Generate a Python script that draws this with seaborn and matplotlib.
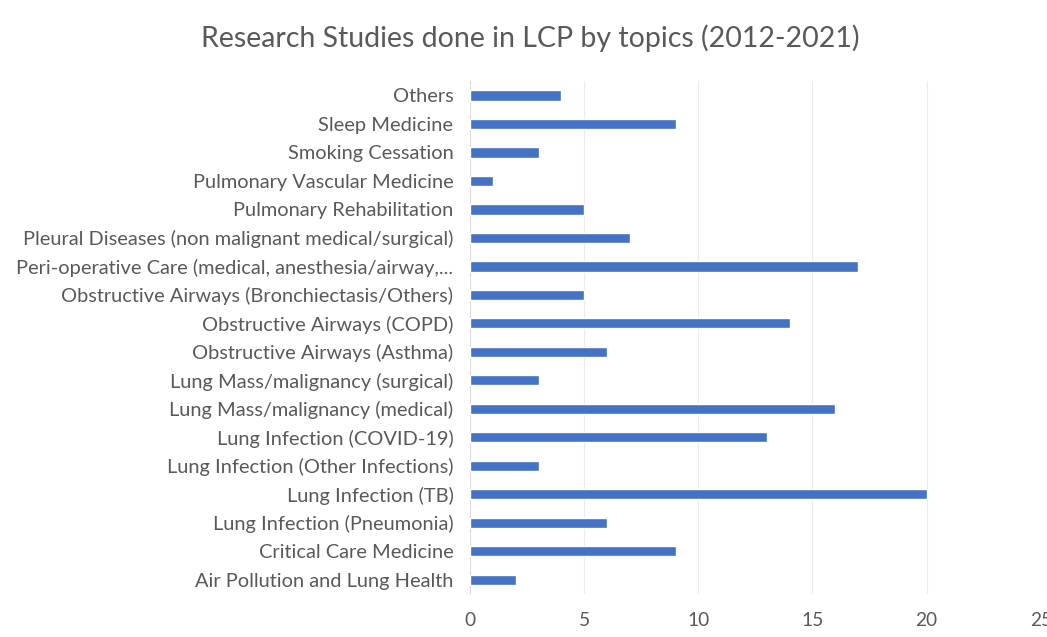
import matplotlib
matplotlib.use("Agg")
import matplotlib.pyplot as plt
import seaborn as sns
import pandas as pd

# Topics listed top to bottom, with number of studies
topics = [
    "Others",
    "Sleep Medicine",
    "Smoking Cessation",
    "Pulmonary Vascular Medicine",
    "Pulmonary Rehabilitation",
    "Pleural Diseases (non malignant medical/surgical)",
    "Peri-operative Care (medical, anesthesia/airway,...",
    "Obstructive Airways (Bronchiectasis/Others)",
    "Obstructive Airways (COPD)",
    "Obstructive Airways (Asthma)",
    "Lung Mass/malignancy (surgical)",
    "Lung Mass/malignancy (medical)",
    "Lung Infection (COVID-19)",
    "Lung Infection (Other Infections)",
    "Lung Infection (TB)",
    "Lung Infection (Pneumonia)",
    "Critical Care Medicine",
    "Air Pollution and Lung Health",
]
studies = [4, 9, 3, 1, 5, 7, 17, 5, 14, 6, 3, 16, 13, 3, 20, 6, 9, 2]
x_ticks = [0, 5, 10, 15, 20, 25]

df = pd.DataFrame({"topic": topics, "studies": studies})

sns.set_theme(style="white")
plt.rcParams["font.family"] = ["Lato", "DejaVu Sans"]

text_color = "#595959"
bar_color = "#4472C4"

fig = plt.figure(figsize=(10.47, 6.37), dpi=100)
ax = fig.add_axes([0.449, 0.0675, 0.545, 0.805])

sns.barplot(data=df, x="studies", y="topic", order=topics, color=bar_color,
            width=0.36, saturation=1, ax=ax, zorder=3)

ax.set_xlim(0, 25)
ax.set_xticks(x_ticks)
ax.set_xticklabels([str(t) for t in x_ticks])
ax.xaxis.grid(True, color="#EBEBEB", linewidth=0.8, zorder=0)
ax.yaxis.grid(False)
for side in ["top", "right", "bottom"]:
    ax.spines[side].set_visible(False)
ax.spines["left"].set_color("#DDDDDD")
ax.spines["left"].set_linewidth(0.8)
ax.set_xlabel("")
ax.set_ylabel("")
ax.tick_params(axis="both", length=0, colors=text_color)
ax.tick_params(axis="y", labelsize=14.4, pad=12)
ax.tick_params(axis="x", labelsize=13.8, pad=13)

fig.text(0.506, 0.94, "Research Studies done in LCP by topics (2012-2021)",
         ha="center", va="center", fontsize=20.5, color=text_color)

fig.savefig("out.png", dpi=100, facecolor="white")
